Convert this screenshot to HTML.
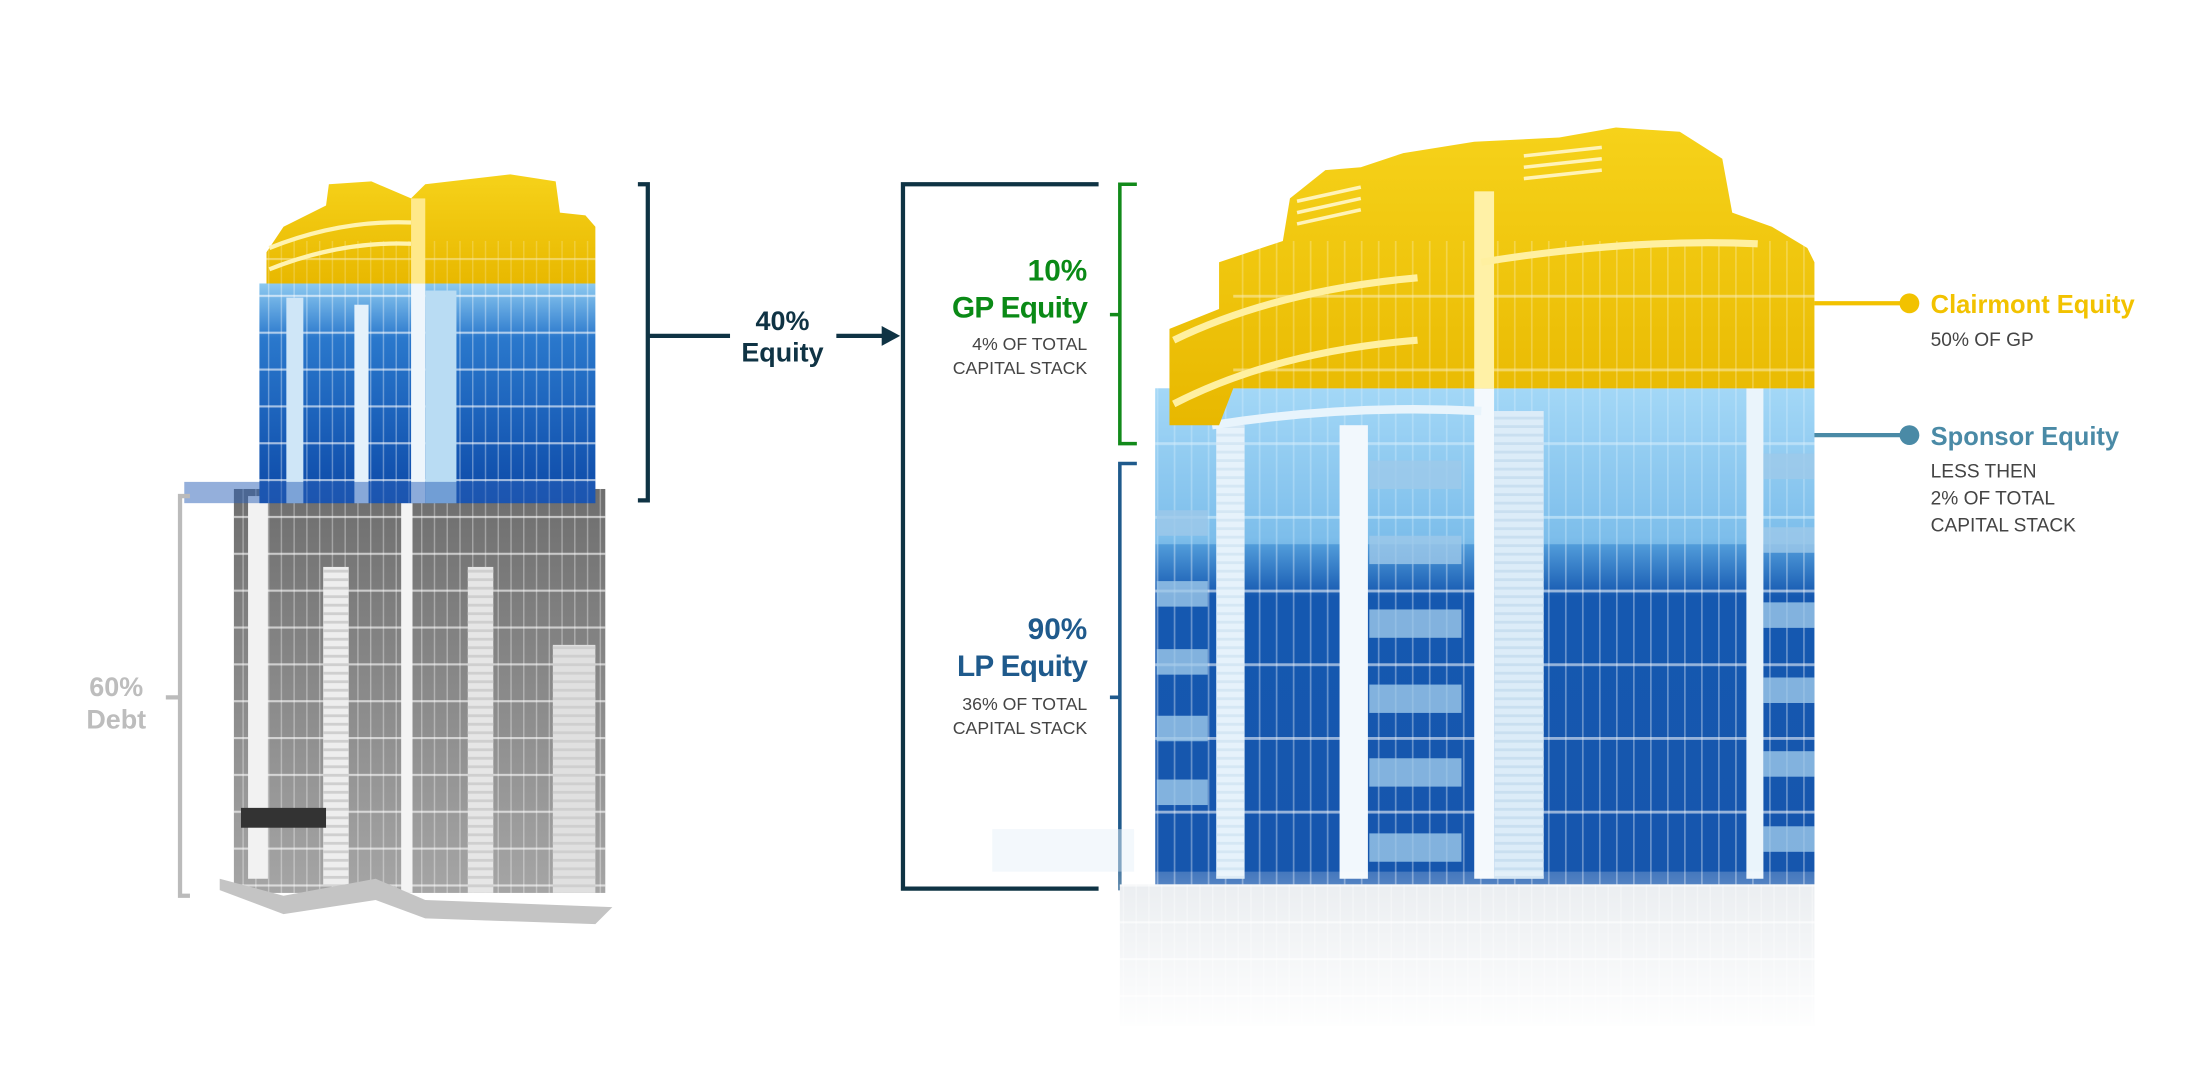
<!DOCTYPE html>
<html><head><meta charset="utf-8">
<style>
html,body{margin:0;padding:0;background:#fff;}
svg{display:block;}
text{font-family:"Liberation Sans",sans-serif;}
</style></head>
<body>
<svg width="2200" height="1080" viewBox="0 0 1552 762" preserveAspectRatio="none" xmlns="http://www.w3.org/2000/svg">
<defs>
  <linearGradient id="yel" x1="0" y1="0" x2="0" y2="1">
    <stop offset="0" stop-color="#f6d21a"/><stop offset="1" stop-color="#e8b800"/>
  </linearGradient>
  <linearGradient id="blu" x1="0" y1="0" x2="0" y2="1">
    <stop offset="0" stop-color="#9fd4f5"/><stop offset="0.3" stop-color="#5aa6e0"/><stop offset="0.42" stop-color="#1558b0"/><stop offset="1" stop-color="#1656ad"/>
  </linearGradient>
  <linearGradient id="bluL" x1="0" y1="0" x2="0" y2="1">
    <stop offset="0" stop-color="#8cc9f0"/><stop offset="0.25" stop-color="#2a78cc"/><stop offset="1" stop-color="#0d4aa8"/>
  </linearGradient>
  <linearGradient id="gry" x1="0" y1="0" x2="0" y2="1">
    <stop offset="0" stop-color="#6e6e6e"/><stop offset="1" stop-color="#a5a5a5"/>
  </linearGradient>
  <linearGradient id="fade" x1="0" y1="0" x2="0" y2="1">
    <stop offset="0" stop-color="#fff" stop-opacity="0.2"/><stop offset="1" stop-color="#fff" stop-opacity="1"/>
  </linearGradient>
  <pattern id="win" width="12" height="52" patternUnits="userSpaceOnUse">
    <rect x="0" y="0" width="1.2" height="52" fill="#ffffff" opacity="0.35"/>
    <rect x="0" y="0" width="12" height="2" fill="#ffffff" opacity="0.55"/>
  </pattern>
  <pattern id="winS" width="9" height="26" patternUnits="userSpaceOnUse">
    <rect x="0" y="0" width="1" height="26" fill="#fff" opacity="0.35"/>
    <rect x="0" y="0" width="9" height="1.5" fill="#fff" opacity="0.6"/>
  </pattern>
  <pattern id="stripe" width="10" height="6" patternUnits="userSpaceOnUse">
    <rect x="0" y="0" width="10" height="2" fill="#c9dff0"/>
  </pattern>
  <pattern id="stripeG" width="10" height="6" patternUnits="userSpaceOnUse">
    <rect x="0" y="0" width="10" height="2" fill="#cfcfcf"/>
  </pattern>
</defs>

<!-- LEFT BUILDING -->
<g>
  <rect x="165" y="345" width="262" height="285" fill="url(#gry)"/>
  <rect x="165" y="345" width="262" height="285" fill="url(#winS)"/>
  <rect x="175" y="350" width="14" height="270" fill="#f2f2f2"/>
  <rect x="228" y="400" width="18" height="225" fill="#eeeeee"/>
  <rect x="228" y="400" width="18" height="225" fill="url(#stripeG)"/>
  <rect x="283" y="350" width="8" height="280" fill="#f4f4f4"/>
  <rect x="330" y="400" width="18" height="230" fill="#e6e6e6"/>
  <rect x="330" y="400" width="18" height="230" fill="url(#stripeG)"/>
  <rect x="390" y="455" width="30" height="175" fill="#e0e0e0"/>
  <rect x="390" y="455" width="30" height="175" fill="url(#stripeG)"/>
  <polygon points="155,620 200,632 265,620 300,635 432,640 420,652 300,648 265,635 200,645 155,628" fill="#c4c4c4"/>
  <rect x="170" y="570" width="60" height="14" fill="#333"/>
  <rect x="183" y="200" width="237" height="155" fill="url(#bluL)"/>
  <rect x="183" y="200" width="237" height="155" fill="url(#winS)"/>
  <rect x="202" y="210" width="12" height="145" fill="#cfe6f7"/>
  <rect x="250" y="215" width="10" height="140" fill="#e4f1fb"/>
  <rect x="290" y="140" width="10" height="215" fill="#eef6fc"/>
  <rect x="300" y="205" width="22" height="150" fill="#b9dcf3"/>
  <rect x="130" y="340" width="290" height="15" fill="#2a5fb8" opacity="0.5"/>
  <polygon points="188,200 188,178 200,160 230,145 232,130 262,128 290,140 300,130 360,123 392,128 395,150 413,152 420,160 420,200" fill="url(#yel)"/>
  <rect x="188" y="170" width="232" height="30" fill="url(#winS)" opacity="0.6"/>
  <path d="M190,190 Q240,170 290,172" stroke="#fff3b0" stroke-width="3" fill="none"/>
  <path d="M190,175 Q240,155 290,157" stroke="#fff3b0" stroke-width="3" fill="none"/>
  <rect x="290" y="140" width="10" height="60" fill="#ffe98a"/>
</g>

<path d="M134,350 H127 V632 H134 M127,492 H117" stroke="#bbbbbb" stroke-width="3" fill="none"/>
<text x="82" y="491" text-anchor="middle" font-size="19" font-weight="bold" fill="#bdbdbd">60%</text>
<text x="82" y="514" text-anchor="middle" font-size="19" font-weight="bold" fill="#bdbdbd">Debt</text>

<path d="M450,130 H457 V353 H450 M457,237 H515" stroke="#0f3344" stroke-width="3" fill="none"/>
<text x="552" y="233" text-anchor="middle" font-size="19" font-weight="bold" fill="#0f3344">40%</text>
<text x="552" y="255" text-anchor="middle" font-size="19" font-weight="bold" fill="#0f3344">Equity</text>
<path d="M590,237 H624" stroke="#0f3344" stroke-width="3"/>
<polygon points="622,230 635,237 622,244" fill="#0f3344"/>

<path d="M775,130 H637 V627 H775" stroke="#0f3344" stroke-width="3" fill="none"/>
<path d="M802,130 H790 V313 H802 M790,222 H783" stroke="#128a1a" stroke-width="2.5" fill="none"/>
<path d="M802,327 H790 V627 H802 M790,492 H783" stroke="#1f5a8c" stroke-width="2.5" fill="none"/>

<text x="767" y="198" text-anchor="end" font-size="21" font-weight="bold" fill="#0a8a16">10%</text>
<text x="767" y="224" text-anchor="end" font-size="21" font-weight="bold" fill="#0a8a16" letter-spacing="-0.5">GP Equity</text>
<text x="767" y="247" text-anchor="end" font-size="12.5" fill="#444">4% OF TOTAL</text>
<text x="767" y="264" text-anchor="end" font-size="12.5" fill="#444">CAPITAL STACK</text>

<text x="767" y="451" text-anchor="end" font-size="21" font-weight="bold" fill="#1f5a8c">90%</text>
<text x="767" y="477" text-anchor="end" font-size="21" font-weight="bold" fill="#1f5a8c" letter-spacing="-0.5">LP Equity</text>
<text x="767" y="501" text-anchor="end" font-size="12.5" fill="#444">36% OF TOTAL</text>
<text x="767" y="518" text-anchor="end" font-size="12.5" fill="#444">CAPITAL STACK</text>

<!-- RIGHT BUILDING -->
<g>
  <rect x="815" y="274" width="465" height="350" fill="url(#blu)"/>
  <rect x="815" y="274" width="465" height="350" fill="url(#win)"/>
  <rect x="815" y="274" width="465" height="110" fill="#a8dcf8" opacity="0.45"/>
  <rect x="858" y="300" width="20" height="320" fill="#e6f2fb"/>
  <rect x="858" y="300" width="20" height="320" fill="url(#stripe)" opacity="0.6"/>
  <rect x="945" y="300" width="20" height="320" fill="#f2f8fd"/>
  <rect x="1040" y="200" width="14" height="420" fill="#f4f9fd"/>
  <rect x="1054" y="290" width="35" height="330" fill="#dcecf8"/>
  <rect x="1054" y="290" width="35" height="330" fill="url(#stripe)"/>
  <rect x="1232" y="180" width="12" height="440" fill="#eaf4fb"/>
  <g fill="#9ec9ea" opacity="0.8">
    <rect x="966" y="325" width="65" height="20"/><rect x="966" y="378" width="65" height="20"/>
    <rect x="966" y="430" width="65" height="20"/><rect x="966" y="483" width="65" height="20"/>
    <rect x="966" y="535" width="65" height="20"/><rect x="966" y="588" width="65" height="20"/>
    <rect x="816" y="360" width="36" height="18"/><rect x="816" y="410" width="36" height="18"/>
    <rect x="816" y="458" width="36" height="18"/><rect x="816" y="505" width="36" height="18"/>
    <rect x="816" y="550" width="36" height="18"/>
    <rect x="1244" y="320" width="36" height="18"/><rect x="1244" y="372" width="36" height="18"/>
    <rect x="1244" y="425" width="36" height="18"/><rect x="1244" y="478" width="36" height="18"/>
    <rect x="1244" y="530" width="36" height="18"/><rect x="1244" y="583" width="36" height="18"/>
  </g>
  <path d="M855,300 Q950,285 1045,290" stroke="#e8f4fc" stroke-width="6" fill="none"/>
  <polygon points="825,300 825,232 860,218 860,185 905,170 910,140 935,120 960,118 990,108 1040,100 1100,97 1140,90 1185,93 1215,112 1222,150 1250,160 1275,175 1280,185 1280,274 870,274 860,300" fill="url(#yel)"/>
  <rect x="870" y="170" width="410" height="104" fill="url(#win)" opacity="0.7"/>
  <rect x="1040" y="135" width="14" height="139" fill="#fff1a6"/>
  <path d="M828,240 Q900,205 1000,196" stroke="#fff0a0" stroke-width="5" fill="none"/>
  <path d="M828,285 Q900,248 1000,240" stroke="#fff0a0" stroke-width="5" fill="none"/>
  <path d="M1045,185 Q1150,168 1240,172" stroke="#fff0a0" stroke-width="5" fill="none"/>
  <g stroke="#fff3b8" stroke-width="2.5">
    <line x1="1075" y1="110" x2="1130" y2="104"/><line x1="1075" y1="118" x2="1130" y2="112"/>
    <line x1="1075" y1="126" x2="1130" y2="120"/><line x1="915" y1="150" x2="960" y2="140"/>
    <line x1="915" y1="158" x2="960" y2="148"/><line x1="915" y1="142" x2="960" y2="132"/>
  </g>
  <rect x="790" y="624" width="490" height="100" fill="#e4e8ec"/>
  <rect x="790" y="624" width="490" height="100" fill="url(#winS)"/>
  <rect x="780" y="615" width="510" height="115" fill="url(#fade)"/>
  <rect x="700" y="585" width="100" height="30" fill="#e8f1f9" opacity="0.5"/>
</g>

<line x1="1280" y1="214" x2="1345" y2="214" stroke="#f2c200" stroke-width="3"/>
<circle cx="1347" cy="214" r="7" fill="#f2c200"/>
<text x="1362" y="221" font-size="18" font-weight="bold" fill="#f2c200">Clairmont Equity</text>
<text x="1362" y="244" font-size="13.5" fill="#444">50% OF GP</text>

<line x1="1280" y1="307" x2="1345" y2="307" stroke="#4a8aa6" stroke-width="3"/>
<circle cx="1347" cy="307" r="7" fill="#4a8aa6"/>
<text x="1362" y="314" font-size="18" font-weight="bold" fill="#4a8aa6">Sponsor Equity</text>
<text x="1362" y="337" font-size="13.5" fill="#444">LESS THEN</text>
<text x="1362" y="356" font-size="13.5" fill="#444">2% OF TOTAL</text>
<text x="1362" y="375" font-size="13.5" fill="#444">CAPITAL STACK</text>
</svg>
</body></html>
